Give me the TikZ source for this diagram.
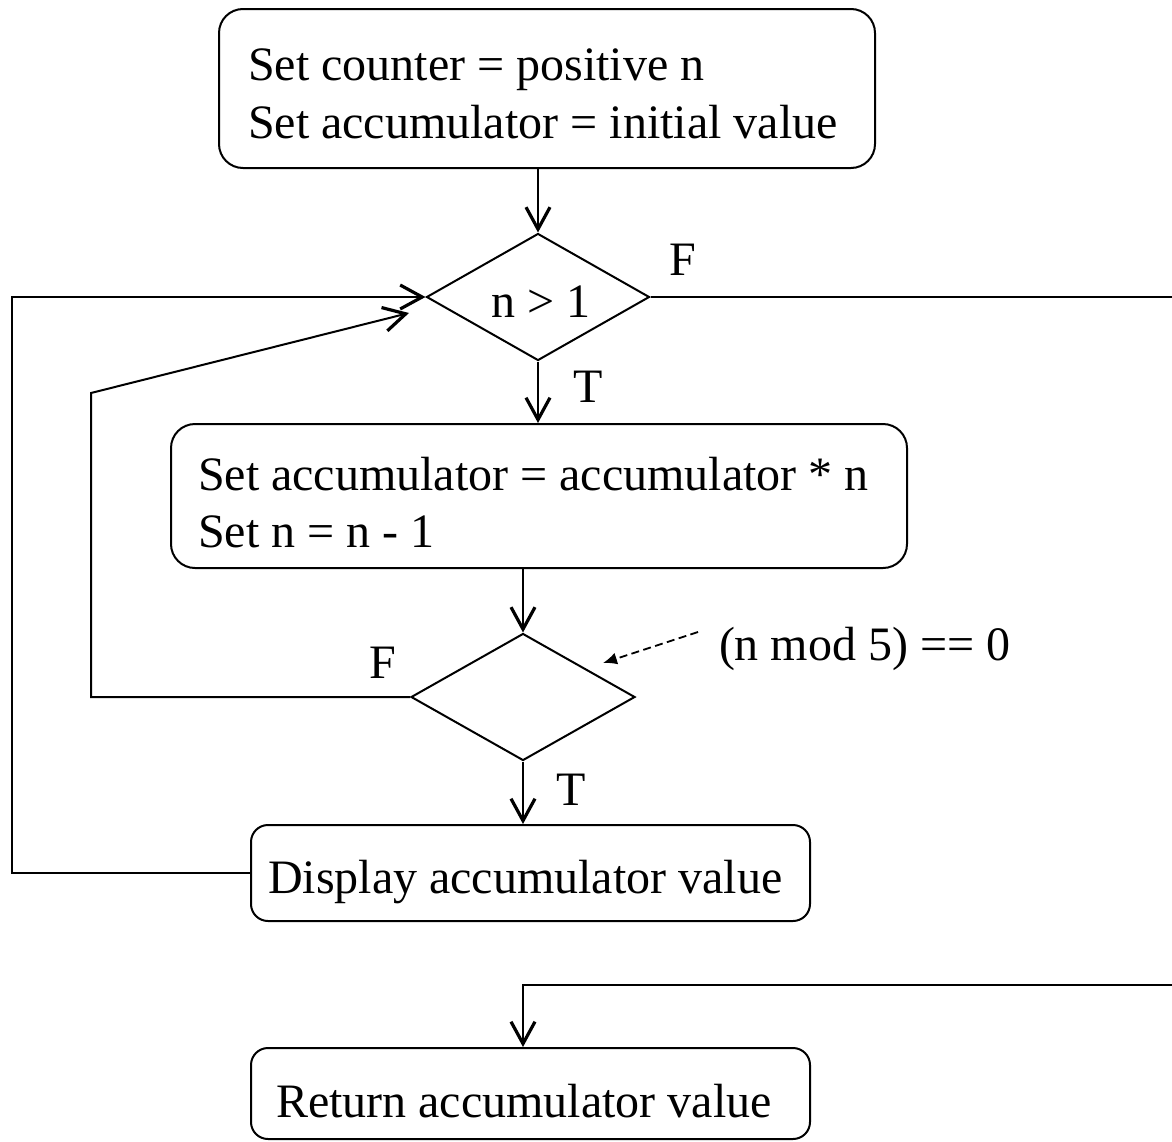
\documentclass[tikz,border=0pt]{standalone}
\usepackage{fontspec}
\setmainfont{Liberation Serif}
\usetikzlibrary{arrows.meta,shapes.geometric}
\begin{document}
\begin{tikzpicture}[x=0.5pt,y=-0.5pt,
  line width=1pt,
  proc/.style={draw, rounded corners=12pt, inner sep=0pt},
  procs/.style={draw, rounded corners=8.5pt, inner sep=0pt},
  dec/.style={draw, diamond, inner sep=0pt},
  lbl/.style={inner sep=0pt, font=\fontsize{24}{28}\selectfont, anchor=base west},
  flow/.style={-{Straight Barb[length=11pt,width=12pt,line width=1.6pt]}},
  note/.style={dash pattern=on 4pt off 2.2pt, line width=0.9pt, -{Latex[length=7pt,width=6pt]}}
]
\useasboundingbox (0,0) rectangle (1172,1141);

% boxes and decisions
\node[proc, minimum width=328pt, minimum height=79.5pt] (b1) at (547,88.5) {};
\node[dec, minimum width=111.5pt, minimum height=63.5pt] (d1) at (538,297) {};
\node[proc, minimum width=368pt, minimum height=72pt] (b2) at (539,496) {};
\node[dec, minimum width=112pt, minimum height=63.5pt] (d2) at (523,697) {};
\node[procs, minimum width=279.5pt, minimum height=48pt] (b3) at (530.5,873) {};
\node[procs, minimum width=279.5pt, minimum height=45.5pt] (b4) at (530.5,1093.5) {};

% texts
\node[lbl] (t1a) at (247,80) {Set counter = positive n};
\node[lbl] (t1b) at (247,138) {Set accumulator = initial value};
\node[lbl] (t2a) at (197,490) {Set accumulator = accumulator * n};
\node[lbl] (t2b) at (197,547) {Set n = n - 1};
\node[lbl] (t3) at (267,893) {Display accumulator value};
\node[lbl] (t4) at (275,1117) {Return accumulator value};
\node[lbl] (cond1) at (490,317) {n > 1};
\node[lbl] (cond2) at (718,660) {(n mod 5) == 0};
\node[lbl] (f1) at (668,275) {F};
\node[lbl] (tt1) at (572,402) {T};
\node[lbl] (f2) at (368,678) {F};
\node[lbl] (tt2) at (555,805) {T};

% helper coordinates
\coordinate (L1) at (12,297);
\coordinate (L2) at (91,393);
\coordinate (tip2) at (409,313);
\coordinate (R1) at (1172,297);
\coordinate (R2) at (1172,985);
\coordinate (ds) at (698,632);
\coordinate (de) at (603,663);

% connectors
\draw[flow] (d1.north |- b1.south) -- (d1.north);
\draw[flow] (d1.south) -- (d1.south |- b2.north);
\draw[flow] (d2.north |- b2.south) -- (d2.north);
\draw[flow] (d2.south) -- (d2.south |- b3.north);
\draw[flow] (b3.west) -| (L1) -- (d1.west);
\draw[flow] (d2.west) -| (L2) -- (tip2);
\draw (d1.east) -- (R1);
\draw[flow] (R2) -| (d2.south |- b4.north);
\draw[note] (ds) -- (de);
\end{tikzpicture}
\end{document}
